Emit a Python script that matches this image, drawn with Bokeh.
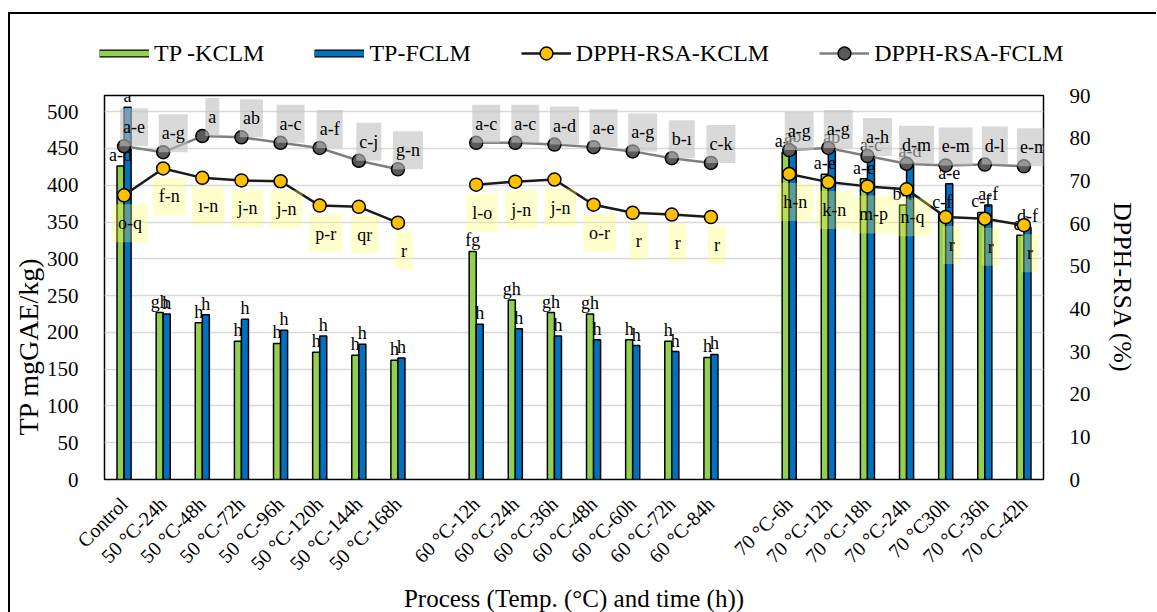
import math
from bokeh.plotting import figure
from bokeh.layouts import column
from bokeh.models import (ColumnDataSource, FactorRange, Range1d, LinearAxis, Legend,
                          LegendItem, SingleIntervalTicker, Title)
from bokeh.transform import dodge
from bokeh.core.properties import value
from bokeh.embed import file_html
from bokeh.resources import INLINE

# ---------------- data ----------------
cats_50 = ["Control", "50 °C-24h", "50 °C-48h", "50 °C-72h", "50 °C-96h",
           "50 °C-120h", "50 °C-144h", "50 °C-168h"]
cats_60 = ["60 °C-12h", "60 °C-24h", "60 °C-36h", "60 °C-48h", "60 °C-60h",
           "60 °C-72h", "60 °C-84h"]
cats_70 = ["70 °C-6h", "70 °C-12h", "70 °C-18h", "70 °C-24h", "70 °C30h",
           "70 °C-36h", "70 °C-42h"]

tp_kclm = [426, 227, 213, 188, 185, 173, 169, 162,
           310, 244, 227, 225, 190, 188, 166,
           445, 415, 409, 373, 362, 363, 332]
tp_fclm = [506, 225, 224, 218, 203, 195, 184, 165,
           211, 205, 195, 190, 182, 174, 170,
           452, 450, 440, 431, 402, 373, 343]
dpph_kclm = [66.6, 72.9, 70.7, 70.1, 69.9, 64.2, 63.9, 60.2,
             69.1, 69.8, 70.3, 64.4, 62.5, 62.1, 61.5,
             71.6, 69.7, 68.7, 68.0, 61.5, 61.1, 59.6]
dpph_fclm = [78.1, 76.7, 80.5, 80.2, 78.9, 77.7, 74.7, 72.7,
             78.9, 78.9, 78.5, 77.9, 76.9, 75.3, 74.2,
             77.2, 77.7, 75.8, 74.0, 73.6, 73.8, 73.4]

lab_tp_kclm = ["a-d", "gh", "h", "h", "h", "h", "h", "h",
               "fg", "gh", "gh", "gh", "h", "h", "h",
               "a-c", "a-e", "a-e", "b-f", "c-f", "c-f", "ef"]
lab_tp_fclm = ["a", "h", "h", "h", "h", "h", "h", "h",
               "h", "h", "h", "h", "h", "h", "h",
               "ab", "ab", "a-c", "a-d", "a-e", "a-f", "d-f"]
lab_dpph_kclm = ["o-q", "f-n", "ı-n", "j-n", "j-n", "p-r", "qr", "r",
                 "l-o", "j-n", "j-n", "o-r", "r", "r", "r",
                 "h-n", "k-n", "m-p", "n-q", "r", "r", "r"]
lab_dpph_fclm = ["a-e", "a-g", "a", "ab", "a-c", "a-f", "c-j", "g-n",
                 "a-c", "a-c", "a-d", "a-e", "a-g", "b-ı", "c-k",
                 "a-g", "a-g", "a-h", "d-m", "e-m", "d-l", "e-m"]

series_names = ["TP -KCLM", "TP-FCLM", "DPPH-RSA-KCLM", "DPPH-RSA-FCLM"]
x_title = "Process (Temp. (°C) and time (h))"
y_title = "TP mgGAE/kg)"
y2_title = "DPPH-RSA (%)"

# ---------------- styles ----------------
GREEN = "#92D050"
BLUE = "#0070C0"
YELLOW = "#FFC000"
DGRAY = "#595959"
FONT = "Liberation Serif"
W = 1146

factors = cats_50 + [" "] + cats_60 + ["  "] + cats_70
cats = cats_50 + cats_60 + cats_70

src = ColumnDataSource(dict(cat=cats, tk=tp_kclm, tf=tp_fclm, dk=dpph_kclm, df=dpph_fclm,
                            ltk=lab_tp_kclm, ltf=lab_tp_fclm, ldk=lab_dpph_kclm,
                            ldf=lab_dpph_fclm))

p = figure(x_range=FactorRange(*factors, range_padding=0, factor_padding=0),
           y_range=Range1d(0, 522), width=W, frame_height=384,
           output_backend="svg", toolbar_location=None,
           min_border_left=91, min_border_right=113, min_border_top=15, min_border_bottom=100)
p.extra_y_ranges = {"dpph": Range1d(0, 90)}

p.outline_line_color = "black"
p.outline_line_width = 1.5
p.xgrid.grid_line_color = None
p.ygrid.grid_line_color = "#D9D9D9"
p.ygrid.grid_line_width = 1.5
p.background_fill_color = "white"
p.border_fill_color = "white"

# bars
bw = 0.18
p.vbar(x=dodge("cat", -bw / 2, range=p.x_range), top="tk", width=bw, source=src,
       fill_color=GREEN, line_color="black", line_width=1.5)
p.vbar(x=dodge("cat", bw / 2, range=p.x_range), top="tf", width=bw, source=src,
       fill_color=BLUE, line_color="black", line_width=1.5)

# bar labels
p.text(x=dodge("cat", -bw / 2, range=p.x_range), y="tk", text="ltk", source=src,
       text_font=value(FONT), text_font_size="18px", text_align="center",
       text_baseline="bottom", y_offset=-1, text_color="black")
p.text(x=dodge("cat", bw / 2, range=p.x_range), y="tf", text="ltf", source=src,
       text_font=value(FONT), text_font_size="18px", text_align="center",
       text_baseline="bottom", y_offset=-1, text_color="black")

# lines per group (break at the gaps)
start = 0
for grp in (cats_50, cats_60, cats_70):
    n = len(grp)
    gsrc = ColumnDataSource(dict(cat=grp, dk=dpph_kclm[start:start + n],
                                 df=dpph_fclm[start:start + n]))
    p.line(x="cat", y="df", source=gsrc, y_range_name="dpph",
           line_color="#7F7F7F", line_width=2.5)
    p.line(x="cat", y="dk", source=gsrc, y_range_name="dpph",
           line_color="#1A1A1A", line_width=2.5)
    start += n

p.scatter(x="cat", y="df", source=src, y_range_name="dpph", marker="circle",
          size=13, fill_color=DGRAY, line_color="black", line_width=1.5)
p.scatter(x="cat", y="dk", source=src, y_range_name="dpph", marker="circle",
          size=13, fill_color=YELLOW, line_color="black", line_width=1.5)

# DPPH labels with boxes
p.text(x="cat", y="df", text="ldf", source=src, y_range_name="dpph",
       x_offset=10, y_offset=-19, text_font=value(FONT), text_font_size="18px",
       text_align="center", text_baseline="middle", text_color="black",
       background_fill_color="#BFBFBF", background_fill_alpha=0.6, padding=(3, 9))
p.text(x="cat", y="dk", text="ldk", source=src, y_range_name="dpph",
       x_offset=6, y_offset=28, text_font=value(FONT), text_font_size="18px",
       text_align="center", text_baseline="middle", text_color="black",
       background_fill_color="#FFFF66", background_fill_alpha=0.33, padding=(6, 9))

# axes
p.yaxis.ticker = SingleIntervalTicker(interval=50)
ax_r = LinearAxis(y_range_name="dpph", ticker=SingleIntervalTicker(interval=10))
p.add_layout(ax_r, "right")

for ax in [p.xaxis[0], p.yaxis[0], ax_r]:
    ax.major_tick_line_color = None
    ax.minor_tick_line_color = None
    ax.axis_line_color = None
    ax.major_label_text_font = FONT
    ax.major_label_text_font_size = "21px"
    ax.major_label_text_color = "black"
    ax.axis_label_text_font = FONT
    ax.axis_label_text_font_style = "normal"
    ax.axis_label_text_font_size = "26px"
    ax.axis_label_text_color = "black"

p.xaxis.axis_label = x_title
p.xaxis.major_label_orientation = math.pi / 4
p.xaxis.major_label_text_font_size = "20px"
p.xaxis.major_label_standoff = 15
p.xaxis.axis_label_standoff = 0
p.xaxis.axis_label_text_font_size = "25px"
p.yaxis[0].major_label_standoff = 20
ax_r.axis_label = y2_title
ax_r.major_label_standoff = 20
ax_r.axis_label_standoff = 14

# left title (sits a bit low along the axis, as in the original)
ltitle = Title(text=y_title, align="left", offset=44, standoff=0,
               text_font=FONT, text_font_size="28px", text_font_style="normal",
               text_color="black")
p.add_layout(ltitle, "left")

# legend strip above the plot (its own frame, not aligned with the chart frame)
leg = figure(width=W, height=66, x_range=Range1d(0, 1), y_range=Range1d(0, 1),
             output_backend="svg", toolbar_location=None,
             min_border=0, min_border_left=0, min_border_right=0,
             min_border_top=0, min_border_bottom=0,
             x_axis_location=None, y_axis_location=None)
leg.frame_align = False
leg.outline_line_color = None
leg.grid.grid_line_color = None
off = dict(x=[-5, -4], y=[-5, -5])
lg_g1 = leg.line(line_color="black", line_width=8, **off)
lg_g2 = leg.line(line_color=GREEN, line_width=5.5, **off)
lg_b1 = leg.line(line_color="black", line_width=8, **off)
lg_b2 = leg.line(line_color=BLUE, line_width=5.5, **off)
lg_kl = leg.line(line_color="#1A1A1A", line_width=2.5, **off)
lg_ks = leg.scatter(marker="circle", size=13, fill_color=YELLOW, line_color="black",
                    line_width=1.5, **off)
lg_fl = leg.line(line_color="#7F7F7F", line_width=2.5, **off)
lg_fs = leg.scatter(marker="circle", size=13, fill_color=DGRAY, line_color="black",
                    line_width=1.5, **off)
legend = Legend(items=[
    LegendItem(label=series_names[0], renderers=[lg_g1, lg_g2]),
    LegendItem(label=series_names[1], renderers=[lg_b1, lg_b2]),
    LegendItem(label=series_names[2], renderers=[lg_kl, lg_ks]),
    LegendItem(label=series_names[3], renderers=[lg_fl, lg_fs]),
], orientation="horizontal", location=(89, 11), glyph_width=50, glyph_height=32,
    label_standoff=5, spacing=50, padding=0, margin=0, border_line_alpha=0,
    background_fill_alpha=0, label_text_font=FONT, label_text_font_size="24px",
    label_text_color="black")
leg.add_layout(legend)

page = column(leg, p, spacing=0, margin=(12, 0, 0, 8),
              styles={"border-left": "2px solid black", "border-top": "2px solid black"})

open("out.html", "w").write(file_html(page, INLINE))
